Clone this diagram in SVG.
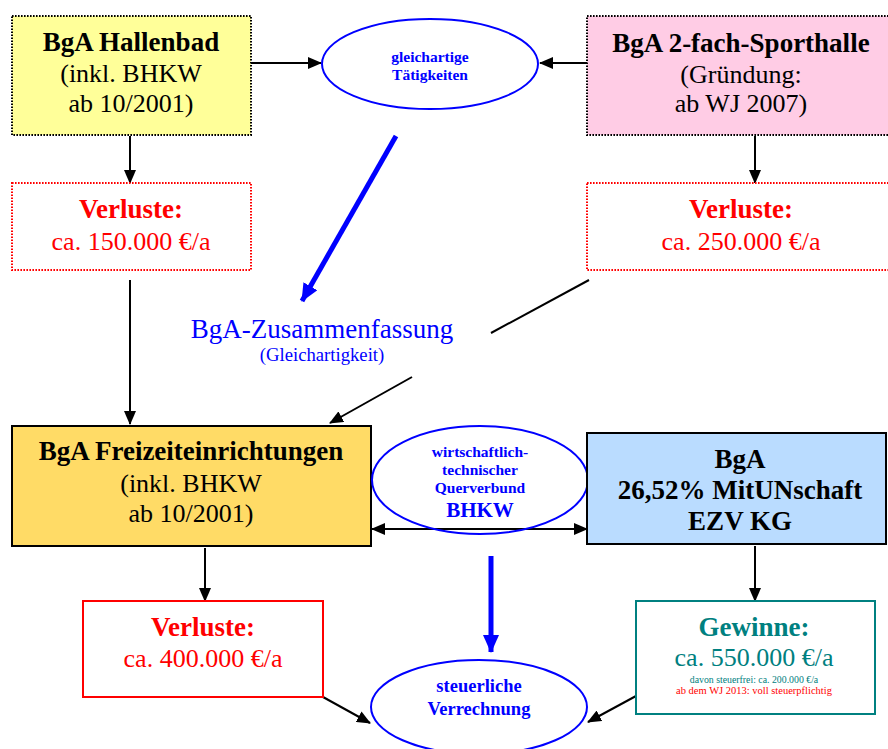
<svg xmlns="http://www.w3.org/2000/svg" width="888" height="749" viewBox="0 0 888 749">
<defs>
<style>
text{font-family:"Liberation Serif","Times New Roman",serif;text-anchor:middle}
.b{font-weight:bold}
.big{font-size:26px}
.b.big{font-size:27px}
.blk{fill:#000}
.red{fill:#FF0000}
.blu{fill:#0000FF}
.teal{fill:#008080}
.dot{stroke-width:2;stroke-dasharray:1.6 1.4}
.ln{stroke:#000;stroke-width:2;fill:none}
.thick{stroke:#0000FF;stroke-width:5;fill:none}
.ell{fill:#fff;stroke:#0000FF;stroke-width:2}
</style>
<marker id="ah" markerWidth="14" markerHeight="12" refX="13" refY="6" orient="auto" markerUnits="userSpaceOnUse"><path d="M0,0 L14,6 L0,12 Z" fill="#000"/></marker>
<marker id="ahs" markerWidth="14" markerHeight="12" refX="1" refY="6" orient="auto" markerUnits="userSpaceOnUse"><path d="M14,0 L0,6 L14,12 Z" fill="#000"/></marker>
<marker id="bh" markerWidth="18" markerHeight="16" refX="17" refY="8" orient="auto" markerUnits="userSpaceOnUse"><path d="M0,0 L18,8 L0,16 Z" fill="#0000FF"/></marker>
</defs>
<rect width="888" height="749" fill="#fff"/>

<g id="connectors">
<line class="ln" x1="251" y1="63" x2="321" y2="63" marker-end="url(#ah)"/>
<line class="ln" x1="587" y1="63" x2="540" y2="63" marker-end="url(#ah)"/>
<line class="ln" x1="130" y1="136" x2="130" y2="183" marker-end="url(#ah)"/>
<line class="ln" x1="755" y1="136" x2="755" y2="183" marker-end="url(#ah)"/>
<line class="ln" x1="130" y1="280" x2="130" y2="424" marker-end="url(#ah)"/>
<line class="ln" x1="589" y1="280" x2="491" y2="333"/>
<line class="ln" x1="412" y1="377" x2="330" y2="423" marker-end="url(#ah)"/>
<line class="thick" x1="396" y1="136" x2="302" y2="301" marker-end="url(#bh)"/>
<line class="ln" x1="372" y1="529" x2="587" y2="529" marker-start="url(#ahs)" marker-end="url(#ah)"/>
<line class="ln" x1="205" y1="548" x2="205" y2="601" marker-end="url(#ah)"/>
<line class="ln" x1="755" y1="546" x2="755" y2="601" marker-end="url(#ah)"/>
<line class="thick" x1="491" y1="556" x2="491" y2="652" marker-end="url(#bh)"/>
<line class="ln" x1="323" y1="697" x2="370" y2="723" marker-end="url(#ah)"/>
<line class="ln" x1="636" y1="696" x2="588" y2="722" marker-end="url(#ah)"/>
</g>

<g id="hallenbad">
<rect x="12" y="16" width="239" height="119" fill="#FFFF99" stroke="#000" class="dot"/>
<text x="131" y="51" class="b big blk">BgA Hallenbad</text>
<text x="131" y="82" class="big blk">(inkl. BHKW</text>
<text x="131" y="112" class="big blk">ab 10/2001)</text>
</g>

<g id="sporthalle">
<rect x="587" y="16" width="310" height="119" fill="#FFCCE5" stroke="#000" class="dot"/>
<text x="741" y="52" class="b big blk">BgA 2-fach-Sporthalle</text>
<text x="741" y="83" class="big blk">(Gründung:</text>
<text x="741" y="112" class="big blk">ab WJ 2007)</text>
</g>

<g id="gleichartig">
<ellipse cx="430" cy="64" rx="108" ry="45" class="ell"/>
<text x="430" y="62" class="b blu" font-size="15.5">gleichartige</text>
<text x="430" y="80" class="b blu" font-size="15.5">Tätigkeiten</text>
</g>

<g id="verluste1">
<rect x="12" y="183" width="239" height="87" fill="#fff" stroke="#FF0000" class="dot"/>
<text x="131" y="218" class="b big red">Verluste:</text>
<text x="131" y="250" class="big red">ca. 150.000 €/a</text>
</g>

<g id="verluste2">
<rect x="587" y="183" width="310" height="87" fill="#fff" stroke="#FF0000" class="dot"/>
<text x="741" y="218" class="b big red">Verluste:</text>
<text x="741" y="250" class="big red">ca. 250.000 €/a</text>
</g>

<g id="zusammenfassung">
<text x="322" y="338" class="blu" font-size="27">BgA-Zusammenfassung</text>
<text x="322" y="361" class="blu" font-size="18.7">(Gleichartigkeit)</text>
</g>

<g id="freizeit">
<rect x="12" y="426" width="359" height="120" fill="#FFDB66" stroke="#000" stroke-width="2"/>
<text x="191" y="460" class="b big blk">BgA Freizeiteinrichtungen</text>
<text x="191" y="492" class="big blk">(inkl. BHKW</text>
<text x="191" y="522" class="big blk">ab 10/2001)</text>
</g>

<g id="querverbund">
<ellipse cx="480" cy="480" rx="108" ry="54" fill="none" stroke="#0000FF" stroke-width="2"/>
<text x="480" y="457" class="b blu" font-size="15.5">wirtschaftlich-</text>
<text x="480" y="475" class="b blu" font-size="15.5">technischer</text>
<text x="480" y="493" class="b blu" font-size="15.5">Querverbund</text>
<text x="480" y="517" class="b blu" font-size="21">BHKW</text>
</g>

<g id="mitunschaft">
<rect x="587" y="433" width="299" height="111" fill="#BADCFF" stroke="#000" stroke-width="2"/>
<text x="740" y="468" class="b big blk">BgA</text>
<text x="740" y="499" class="b big blk">26,52% MitUNschaft</text>
<text x="740" y="530" class="b big blk">EZV KG</text>
</g>

<g id="verluste3">
<rect x="83" y="601" width="240" height="96" fill="#fff" stroke="#FF0000" stroke-width="2"/>
<text x="203" y="636" class="b big red">Verluste:</text>
<text x="203" y="667" class="big red">ca. 400.000 €/a</text>
</g>

<g id="gewinne">
<rect x="636" y="601" width="239" height="113" fill="#fff" stroke="#008080" stroke-width="2"/>
<text x="754" y="636" class="b big teal">Gewinne:</text>
<text x="754" y="666" class="big teal">ca. 550.000 €/a</text>
<text x="754" y="683" class="teal" font-size="9.8">davon steuerfrei: ca. 200.000 €/a</text>
<text x="754" y="694" class="red" font-size="10.5">ab dem WJ 2013: voll steuerpflichtig</text>
</g>

<g id="verrechnung">
<ellipse cx="479" cy="707" rx="108" ry="47" class="ell"/>
<text x="479" y="692" class="b blu" font-size="18.5">steuerliche</text>
<text x="479" y="715" class="b blu" font-size="18.5">Verrechnung</text>
</g>
</svg>
